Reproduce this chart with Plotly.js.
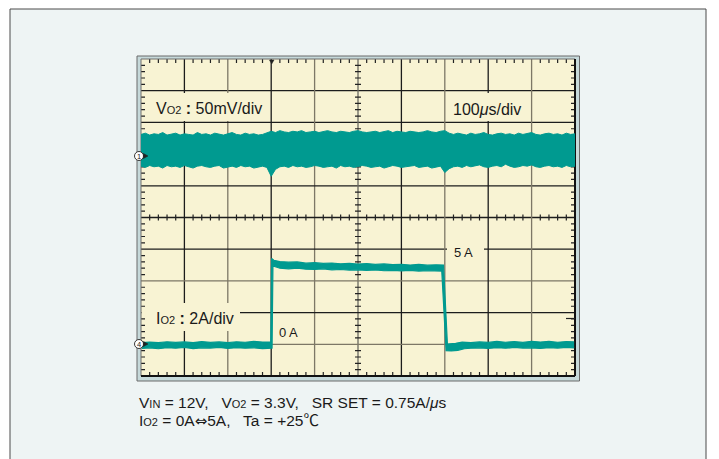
<!DOCTYPE html>
<html><head><meta charset="utf-8">
<script src="https://cdn.plot.ly/plotly-3.0.1.min.js"></script>
<style>html,body{margin:0;padding:0;background:#fff}</style>
</head><body><div id="chart" style="width:719px;height:459px"></div>
<script>
// Channel 1: output ripple Vo2 (mV, AC), envelope sampled every 10 us starting at 0 us
const voltUpper = [31,33,30,32,31,34,30,31,33,30,32,31,30,34,31,32,30,33,31,30,32,34,31,30,33,31,32,30,31,33,
  36,34,37,35,34,36,35,37,34,35,36,34,35,37,35,34,36,35,34,36,37,35,34,35,36,34,35,37,34,36,35,34,36,35,34,35,37,35,34,36,
  37,33,31,33,32,30,33,31,32,34,31,30,32,33,31,32,30,33,31,32,34,31,30,32,33,31,32,30,33,31,32];
const voltLower = [-19,-21,-18,-20,-19,-22,-18,-20,-19,-21,-18,-20,-22,-19,-18,-20,-21,-19,-18,-22,-20,-19,-21,-18,-20,-19,-22,-20,-19,-21,
  -35,-24,-20,-19,-21,-18,-20,-19,-21,-20,-18,-19,-21,-20,-19,-22,-18,-20,-19,-21,-20,-18,-19,-21,-20,-19,-22,-20,-18,-19,-21,-20,-19,-18,-21,-20,-19,-22,-20,-19,
  -29,-23,-20,-19,-21,-18,-20,-19,-17,-20,-21,-19,-18,-20,-16,-19,-21,-20,-18,-19,-17,-20,-21,-19,-18,-20,-19,-21,-18,-20,-19];
const voltStartUs = 0, voltStepUs = 10;

// Channel 4: output current Io2 (A), upper and lower edge of the trace
const curUpperT = [2,20,40,60,80,100,120,140,160,180,200,220,240,260,280,299,
  301,306,320,340,360,380,400,420,440,460,480,500,520,540,560,580,600,620,640,660,680,697,
  706,715,725,740,760,780,800,820,840,860,880,900,920,940,960,980,998];
const curUpper = [0.10,0.14,0.10,0.16,0.12,0.15,0.11,0.17,0.12,0.15,0.10,0.16,0.13,0.18,0.14,0.15,
  5.42,5.30,5.22,5.18,5.20,5.12,5.15,5.10,5.13,5.08,5.10,5.06,5.09,5.04,5.07,5.03,5.05,5.00,5.04,4.99,5.02,5.00,
  0.02,0.02,0.06,0.14,0.10,0.15,0.12,0.18,0.13,0.17,0.12,0.19,0.14,0.18,0.13,0.17,0.15];
const curLowerT = [2,20,40,60,80,100,120,140,160,180,200,220,240,260,280,302,
  304,320,340,360,380,400,420,440,460,480,500,520,540,560,580,600,620,640,660,680,693,
  703,715,730,745,760,780,800,820,840,860,880,900,920,940,960,980,998];
const curLower = [-0.26,-0.22,-0.28,-0.21,-0.25,-0.20,-0.27,-0.22,-0.24,-0.20,-0.26,-0.21,-0.25,-0.22,-0.27,-0.24,
  4.95,4.80,4.76,4.80,4.74,4.72,4.76,4.70,4.72,4.68,4.70,4.66,4.69,4.64,4.67,4.63,4.66,4.62,4.64,4.60,4.62,
  -0.40,-0.42,-0.38,-0.28,-0.25,-0.22,-0.26,-0.21,-0.25,-0.20,-0.24,-0.22,-0.26,-0.21,-0.24,-0.20,-0.23];

// scope settings
const timePerDiv = 100;   // us/div
const voltPerDiv = 50;    // mV/div
const ampPerDiv = 2;      // A/div
const ch1GroundDiv = 2;   // divisions above centre
const ch4GroundDiv = -4;

// texts
const ch1Label = "V<span style='font-size:11px'>O2</span> <b>:</b> 50mV/div";
const timeLabel = "100<i>μ</i>s/div";
const ch4Label = "I<span style='font-size:11px'>O2</span> <b>:</b> 2A/div";
const zeroLabel = "0 A";
const fiveLabel = "5 A";
const noteLine1 = "V<span style='font-size:11px'>IN</span> = 12V,\u00a0\u00a0 V<span style='font-size:11px'>O2</span> = 3.3V,\u00a0\u00a0 SR SET = 0.75A/<i>μ</i>s";
const noteLine2 = "I<span style='font-size:11px'>O2</span> = 0A<span style='font-family:DejaVu Sans;font-size:15px'>⇔</span>5A,\u00a0\u00a0 Ta = +25℃";

// ---------- layout helpers (pixel -> paper) ----------
const L = 141, T = 59, W = 434, H = 317;
const px = x => (x - L) / W;
const py = y => (T + H - y) / H;

const teal = '#009a90';
const shapes = [];
function rect(x0, y0, x1, y1, fill, line, lw) {
  shapes.push({type:'rect', xref:'paper', yref:'paper', layer:'below',
    x0:px(x0), x1:px(x1), y0:py(y1), y1:py(y0), fillcolor:fill,
    line:{color:line||fill, width: lw===undefined?0:lw}});
}
function seg(x0, y0, x1, y1, color, w) {
  shapes.push({type:'line', xref:'paper', yref:'paper', layer:'below',
    x0:px(x0), x1:px(x1), y0:py(y0), y1:py(y1), line:{color:color, width:w}});
}
// outer panel & scope bezel
rect(10, 9, 706, 470, '#eef4f4', '#4a4a4a', 1);
rect(137, 56, 579.5, 381, '#c6d9da', '#6a6a6a', 1);
rect(L, T, L + W, T + H, '#f8f3d3');
// graticule
const vColors = ['', '#1c1c1c', '#7d7766', '#1c1c1c', '#7d7766', '#6a6a60', '#1c1c1c', '#7d7766', '#1c1c1c', '#7d7766'];
const hColors = ['', '#1c1c1c', '#1c1c1c', '#7d7766', '#1c1c1c', '#1c1c1c', '#1c1c1c', '#7d7766', '#1c1c1c', '#7d7766'];
for (let i = 1; i < 10; i++) {
  const x = L + W * i / 10; seg(x, T, x, T + H, vColors[i], 1.3);
  const y = T + H * i / 10; seg(L, y, L + W, y, hColors[i], 1.3);
}
// label background boxes
rect(148, 93, 270, 121, '#f8f3d3');
rect(449, 93, 530, 121, '#f8f3d3');
rect(141.5, 303, 240, 331, '#f8f3d3');
rect(276, 322, 312, 342, '#f8f3d3');
rect(447, 242, 484, 261, '#f8f3d3');
// minor ticks
let p = '';
const cx = L + W / 2, cy = T + H / 2;
for (let i = 1; i < 50; i++) {
  if (i % 5 === 0) continue;
  const x = L + W * i / 50;
  p += `M${px(x)},${py(T)}L${px(x)},${py(T + 4)}`;
  p += `M${px(x)},${py(T + H)}L${px(x)},${py(T + H - 4)}`;
  p += `M${px(x)},${py(cy - 3)}L${px(x)},${py(cy + 3)}`;
  const y = T + H * i / 50;
  p += `M${px(L)},${py(y)}L${px(L + 4)},${py(y)}`;
  p += `M${px(L + W)},${py(y)}L${px(L + W - 4)},${py(y)}`;
  p += `M${px(cx - 3)},${py(y)}L${px(cx + 3)},${py(y)}`;
}
shapes.push({type:'path', xref:'paper', yref:'paper', layer:'below', path:p, line:{color:'#222', width:1.2}});
// plot frame
seg(L, T, L + W, T, '#6f6f6f', 1);
seg(L, T, L, T + H, '#6f6f6f', 1);
seg(L, T + H, L + W, T + H, '#111', 2);
seg(L + W, T, L + W, T + H, '#111', 2);
// trigger markers
shapes.push({type:'path', xref:'paper', yref:'paper', layer:'above',
  path:`M${px(269.5)},${py(60)}L${px(274)},${py(60)}L${px(271.7)},${py(64)}Z`, fillcolor:'#222', line:{color:'#222', width:0.5}});
seg(566, 318.5, 575, 318.5, '#222', 1.2);
// channel markers
function chMarker(y) {
  shapes.push({type:'circle', xref:'paper', yref:'paper', layer:'above',
    x0:px(134.5), x1:px(143.5), y0:py(y + 4.5), y1:py(y - 4.5), fillcolor:'#fff', line:{color:'#222', width:0.9}});
  shapes.push({type:'path', xref:'paper', yref:'paper', layer:'above',
    path:`M${px(143.5)},${py(y - 2.5)}L${px(148)},${py(y)}L${px(143.5)},${py(y + 2.5)}Z`, fillcolor:'#222', line:{color:'#222', width:0.5}});
}
chMarker(156);
chMarker(344);

const traces = [
  {x0:voltStartUs, dx:voltStepUs, y:voltUpper, yaxis:'y', mode:'lines', line:{color:teal, width:1}, hoverinfo:'skip'},
  {x0:voltStartUs, dx:voltStepUs, y:voltLower, yaxis:'y', mode:'lines', line:{color:teal, width:1}, fill:'tonexty', fillcolor:teal, hoverinfo:'skip'},
  {x:curUpperT, y:curUpper, yaxis:'y2', mode:'lines', line:{color:teal, width:1.2}, hoverinfo:'skip'},
  {x:curLowerT, y:curLower, yaxis:'y2', mode:'lines', line:{color:teal, width:1.2}, fill:'tonexty', fillcolor:teal, hoverinfo:'skip'}
];

const font = 'Liberation Sans, Arial, Noto Sans CJK JP, sans-serif';
function ann(text, x, y, size, extra) {
  return Object.assign({text:text, xref:'paper', yref:'paper', x:px(x), y:py(y), xanchor:'left', yanchor:'middle',
    showarrow:false, font:{family:font, size:size, color:'#1a1a1a'}}, extra || {});
}
const annotations = [
  ann(ch1Label, 154, 108, 16),
  ann(timeLabel, 451, 109, 16),
  ann(ch4Label, 154, 318, 16),
  ann(zeroLabel, 277, 332, 13),
  ann(fiveLabel, 452, 252, 13),
  ann('1', 139, 156.5, 7.5, {xanchor:'center'}),
  ann('4', 139, 344.5, 7.5, {xanchor:'center'}),
  ann(noteLine1, 137, 402, 15.5),
  ann(noteLine2, 137, 421, 15.5)
];

const hidden = {showgrid:false, zeroline:false, showticklabels:false, ticks:'', showline:false, fixedrange:true};
const layout = {
  width:719, height:459,
  margin:{l:L, t:T, r:719 - L - W, b:459 - T - H},
  paper_bgcolor:'#ffffff', plot_bgcolor:'rgba(0,0,0,0)',
  showlegend:false, hovermode:false,
  xaxis:Object.assign({range:[0, 10 * timePerDiv]}, hidden),
  yaxis:Object.assign({range:[(-5 - ch1GroundDiv) * voltPerDiv, (5 - ch1GroundDiv) * voltPerDiv]}, hidden),
  yaxis2:Object.assign({range:[(-5 - ch4GroundDiv) * ampPerDiv, (5 - ch4GroundDiv) * ampPerDiv], overlaying:'y'}, hidden),
  shapes:shapes, annotations:annotations
};
Plotly.newPlot('chart', traces, layout, {staticPlot:true, displayModeBar:false});
</script></body></html>
